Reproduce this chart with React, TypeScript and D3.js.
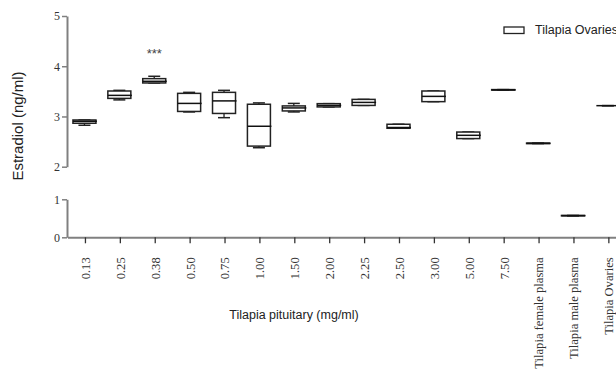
import React, { useEffect, useRef } from 'react';
import * as d3 from 'd3';

const categories = ['0.13', '0.25', '0.38', '0.50', '0.75', '1.00', '1.50', '2.00', '2.25', '2.50', '3.00', '5.00', '7.50', 'Tilapia female plasma', 'Tilapia male plasma', 'Tilapia Ovaries'];
const mins =    [2.825, 3.33, 3.667, 3.09, 2.976, 2.378, 3.09, 3.19, 3.22, 2.765, 3.295, 2.56, 3.525, 2.46, 0.565, 3.215];
const q1s =     [2.865, 3.36, 3.667, 3.10, 3.06, 2.41, 3.11, 3.19, 3.22, 2.765, 3.295, 2.56, 3.525, 2.46, 0.565, 3.215];
const medians = [2.905, 3.42, 3.70, 3.26, 3.31, 2.805, 3.17, 3.22, 3.28, 2.78, 3.40, 2.625, 3.53, 2.465, 0.57, 3.215];
const q3s =     [2.93, 3.507, 3.753, 3.46, 3.48, 3.243, 3.21, 3.255, 3.34, 2.845, 3.507, 2.69, 3.535, 2.47, 0.575, 3.215];
const maxs =    [2.93, 3.52, 3.80, 3.48, 3.52, 3.27, 3.26, 3.255, 3.34, 2.845, 3.507, 2.69, 3.535, 2.47, 0.575, 3.215];
const marks =   ['', '', '***', '', '', '', '', '', '', '', '', '', '', '', '', ''];
const upperTicks = [2, 3, 4, 5];
const lowerTicks = [0, 1];
const legendLabel = 'Tilapia Ovaries';

const App = () => {
  const ref = useRef<SVGSVGElement>(null);

  useEffect(() => {
    const svg = d3.select(ref.current);
    svg.selectAll('*').remove();

    const yTop = d3.scaleLinear().domain([2, 5]).range([166.7, 16]);
    const yBot = d3.scaleLinear().domain([0, 1]).range([237.3, 199.3]);
    const y = (v: number) => (v >= 1.5 ? yTop(v) : yBot(v));
    const x = d3.scalePoint().domain(categories).range([67.5, 625.8]).padding(0.5);

    const boxW = 23;
    const capW = 12;

    // broken y axis
    const axisStyle = (g: any) => {
      g.select('.domain').attr('stroke', '#808080').attr('stroke-width', 2);
      g.selectAll('.tick line').attr('stroke', '#808080').attr('stroke-width', 1.5);
      g.selectAll('.tick text')
        .attr('font-family', '"Liberation Serif", serif')
        .attr('font-size', 12)
        .attr('fill', '#333');
    };

    svg.append('g')
      .attr('transform', 'translate(67,0)')
      .call(d3.axisLeft(yTop).tickValues(upperTicks).tickSize(5).tickSizeOuter(0).tickPadding(2).tickFormat(d3.format('d')))
      .call(axisStyle);

    svg.append('g')
      .attr('transform', 'translate(67,0)')
      .call(d3.axisLeft(yBot).tickValues(lowerTicks).tickSize(5).tickSizeOuter(0).tickPadding(2).tickFormat(d3.format('d')))
      .call(axisStyle);

    // x axis
    const xg = svg.append('g')
      .attr('transform', 'translate(0,237.3)')
      .call(d3.axisBottom(x).tickSize(6).tickSizeOuter(0));
    xg.select('.domain').attr('stroke', '#808080').attr('stroke-width', 2);
    xg.selectAll('.tick line').attr('stroke', '#333').attr('stroke-width', 1.3);
    xg.selectAll('.tick text')
      .attr('transform', 'rotate(-90)')
      .attr('x', -20)
      .attr('y', 0)
      .attr('dy', '0.35em')
      .style('text-anchor', 'end')
      .attr('font-family', '"Liberation Serif", serif')
      .attr('font-size', 12.6)
      .attr('fill', '#333');

    // boxes
    const boxes = svg.append('g')
      .selectAll('g')
      .data(categories)
      .enter()
      .append('g')
      .attr('transform', d => `translate(${(x(d) as number) - 0.5},0)`);

    boxes.append('line')
      .attr('x1', 0).attr('x2', 0)
      .attr('y1', (d, i) => y(maxs[i]))
      .attr('y2', (d, i) => y(mins[i]))
      .attr('stroke', '#222').attr('stroke-width', 1.3);

    boxes.append('line')
      .attr('x1', -capW / 2).attr('x2', capW / 2)
      .attr('y1', (d, i) => y(maxs[i])).attr('y2', (d, i) => y(maxs[i]))
      .attr('stroke', '#222').attr('stroke-width', 1.5);

    boxes.append('line')
      .attr('x1', -capW / 2).attr('x2', capW / 2)
      .attr('y1', (d, i) => y(mins[i])).attr('y2', (d, i) => y(mins[i]))
      .attr('stroke', '#222').attr('stroke-width', 1.5);

    boxes.append('rect')
      .attr('x', -boxW / 2)
      .attr('width', boxW)
      .attr('y', (d, i) => y(q3s[i]))
      .attr('height', (d, i) => y(q1s[i]) - y(q3s[i]))
      .attr('fill', '#fff')
      .attr('stroke', '#222')
      .attr('stroke-width', 1.5);

    boxes.append('line')
      .attr('x1', -boxW / 2).attr('x2', boxW / 2 + 1)
      .attr('y1', (d, i) => y(medians[i])).attr('y2', (d, i) => y(medians[i]))
      .attr('stroke', '#111').attr('stroke-width', 1.5);

    boxes.append('text')
      .attr('y', (d, i) => y(maxs[i]) - 18)
      .attr('text-anchor', 'middle')
      .attr('font-family', '"Liberation Sans", Arial, sans-serif')
      .attr('font-size', 13)
      .attr('fill', '#444')
      .text((d, i) => marks[i]);

    // titles
    svg.append('text')
      .attr('transform', 'translate(23,126) rotate(-90)')
      .attr('text-anchor', 'middle')
      .attr('font-family', '"Liberation Sans", Arial, sans-serif')
      .attr('font-size', 15)
      .attr('fill', '#222')
      .text('Estradiol (ng/ml)');

    svg.append('text')
      .attr('x', 294)
      .attr('y', 319)
      .attr('text-anchor', 'middle')
      .attr('font-family', '"Liberation Sans", Arial, sans-serif')
      .attr('font-size', 12.5)
      .attr('fill', '#222')
      .text('Tilapia pituitary (mg/ml)');

    // legend (the reference's legend runs off the right edge)
    svg.append('rect')
      .attr('x', 504).attr('y', 27)
      .attr('width', 20).attr('height', 6.5)
      .attr('fill', '#fff').attr('stroke', '#222').attr('stroke-width', 1.3);
    svg.append('text')
      .attr('x', 535).attr('y', 34.3)
      .attr('font-family', '"Liberation Sans", Arial, sans-serif')
      .attr('font-size', 12.5)
      .attr('fill', '#222')
      .text(legendLabel);
  }, []);

  return (
    <svg ref={ref} width={616} height={371}
      style={{ position: 'absolute', left: 0, top: 0, background: '#fff' }} />
  );
};

export default App;
